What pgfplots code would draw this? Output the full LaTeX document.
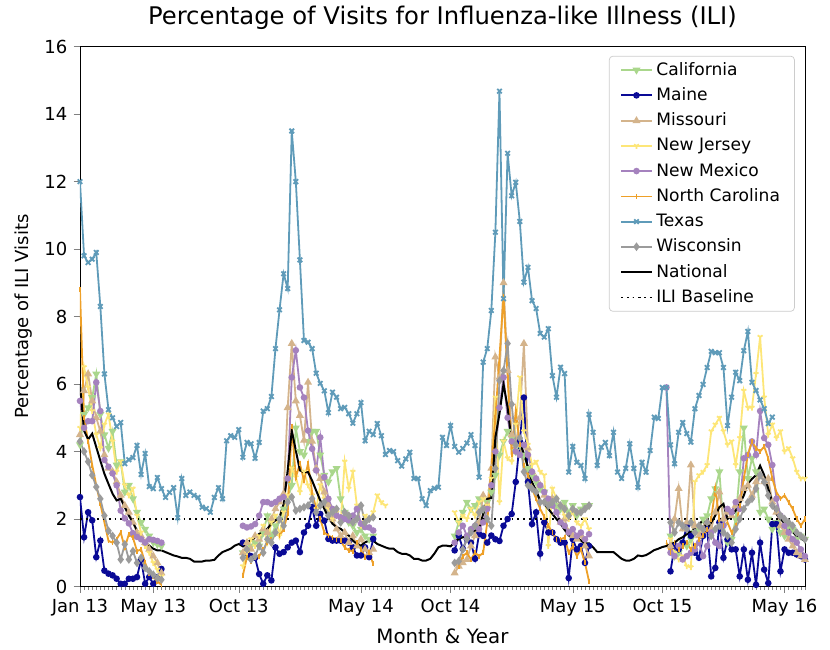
\documentclass[border=0pt]{standalone}
\usepackage{fontspec}
\setmainfont{DejaVu Sans}
\usepackage{pgfplots}
\pgfplotsset{compat=1.18}
\usetikzlibrary{plotmarks}

\definecolor{cCA}{RGB}{170,215,140}
\definecolor{cME}{RGB}{10,10,150}
\definecolor{cMO}{RGB}{212,180,140}
\definecolor{cNJ}{RGB}{253,230,120}
\definecolor{cNM}{RGB}{165,130,190}
\definecolor{cNC}{RGB}{238,160,40}
\definecolor{cTX}{RGB}{95,155,185}
\definecolor{cWI}{RGB}{155,155,155}

\begin{document}
\begin{tikzpicture}
\begin{axis}[
    scale only axis,
    width=401.5bp, height=299bp,
    at={(0,0)}, anchor=south west,
    xmin=0, xmax=178, ymin=0, ymax=16,
    xtick={0,18,39,69,91,121,143,173},
    xticklabels={Jan 13,May 13,Oct 13,May 14,Oct 14,May 15,Oct 15,May 16},
    minor xtick={0,...,178},
    ytick={0,2,...,16},
    tick align=outside, tick pos=left,
    major tick length=3.5pt, minor tick length=2pt,
    /pgf/number format/assume math mode=true,
    tick label style={font=\fontsize{10}{12}\selectfont},
    xlabel style={font=\fontsize{11}{13}\selectfont},
    ylabel style={font=\fontsize{10}{12}\selectfont},
    title style={font=\fontsize{13.5}{16}\selectfont},
    title={Percentage of Visits for Influenza-like Illness (ILI)},
    xlabel={Month \& Year},
    ylabel={Percentage of ILI Visits},
    unbounded coords=jump,
    every axis plot/.append style={line width=1pt},
    legend cell align=left,
    legend style={at={(0.986,0.983)}, anchor=north east,
        font=\fontsize{9.5}{11}\selectfont, draw=black!20, rounded corners=2pt,
        fill=white, fill opacity=0.8, text opacity=1, row sep=1.4bp,
        inner xsep=6bp, inner ysep=1.3bp},
  ]

  \addplot[cCA, mark=triangle*, mark size=1.6pt, mark options={rotate=180, solid}] coordinates {
    (0,4.2)(1,5.1)(2,5.3)(3,5.6)(4,6.3)(5,5.1)(6,4.5)(7,4.1)(8,4.6)(9,3.6)(10,3.7)(11,2.8)(12,3.0)(13,2.6)(14,2.2)(15,1.9)(16,1.7)(17,1.5)(18,1.3)(19,1.25)(20,1.2)
    (21,nan)
    (40,1.0)(41,0.9)(42,1.2)(43,1.3)(44,1.2)(45,1.6)(46,2.1)(47,1.5)(48,1.8)(49,2.0)(50,2.3)(51,2.6)(52,3.0)(53,4.7)(54,4.0)(55,3.9)(56,4.3)(57,4.6)(58,4.6)(59,3.9)(60,3.3)(61,3.1)(62,3.4)(63,3.5)(64,2.6)(65,2.2)(66,1.9)(67,1.8)(68,1.6)(69,1.7)(70,1.5)(71,1.4)(72,1.5)
    (73,nan)
    (92,1.5)(93,1.9)(94,2.2)(95,2.5)(96,2.3)(97,2.4)(98,2.6)(99,2.3)(100,2.5)(101,2.8)(102,3.3)(103,3.9)(104,4.3)(105,4.6)(106,4.4)(107,4.0)(108,4.2)(109,3.9)(110,3.5)(111,3.3)(112,3.1)(113,2.9)(114,2.8)(115,2.5)(116,2.6)(117,2.4)(118,2.3)(119,2.5)(120,2.2)(121,2.4)(122,2.1)(123,2.3)(124,2.4)(125,2.4)
    (126,nan)
    (145,1.5)(146,0.9)(147,1.0)(148,1.3)(149,1.2)(150,1.4)(151,1.6)(152,1.7)(153,2.0)(154,2.1)(155,2.6)(156,2.9)(157,3.4)(158,1.8)(159,1.3)(160,1.4)(161,2.0)(162,3.4)(163,4.7)(164,3.2)(165,3.8)(166,3.4)(167,2.2)(168,2.3)(169,2.0)(170,1.7)(171,1.9)(172,1.6)(173,1.5)(174,1.8)(175,1.7)(176,1.4)(177,1.5)(178,1.4)
  };
  \addlegendentry{California}

  \addplot[cME, mark=*, mark size=1.3pt, mark options={solid}] coordinates {
    (0,2.65)(1,1.46)(2,2.2)(3,1.96)(4,0.87)(5,1.36)(6,0.47)(7,0.38)(8,0.33)(9,0.23)(10,0.08)(11,0.08)(12,0.23)(13,0.23)(14,0.28)(15,0.8)(16,0.08)(17,0.28)(18,0.08)(19,0.28)(20,0.52)
    (21,nan)
    (40,1.3)(41,1.0)(42,0.9)(43,0.85)(44,0.37)(45,0.08)(46,0.33)(47,0.18)(48,1.16)(49,0.97)(50,1.02)(51,1.16)(52,1.3)(53,1.36)(54,1.02)(55,1.6)(56,1.8)(57,2.35)(58,1.8)(59,2.15)(60,1.95)(61,1.41)(62,1.36)(63,1.36)(64,1.36)(65,1.36)(66,1.3)(67,1.16)(68,0.92)(69,0.92)(70,1.16)(71,0.87)(72,1.41)
    (73,nan)
    (92,1.07)(93,1.51)(94,1.12)(95,1.4)(96,1.3)(97,0.82)(98,1.56)(99,1.5)(100,1.3)(101,1.51)(102,1.4)(103,1.35)(104,1.8)(105,2.0)(106,2.15)(107,3.1)(108,4.3)(109,5.6)(110,3.1)(111,1.85)(112,2.2)(113,0.97)(114,1.9)(115,1.6)(116,1.6)(117,1.4)(118,1.3)(119,1.3)(120,0.25)(121,1.4)(122,1.1)(123,1.2)(124,0.7)(125,1.2)
    (126,nan)
    (145,0.45)(146,1.2)(147,1.1)(148,1.3)(149,1.8)(150,1.5)(151,1.0)(152,0.85)(153,1.5)(154,1.7)(155,0.3)(156,0.55)(157,1.9)(158,0.85)(159,1.4)(160,1.1)(161,1.1)(162,0.3)(163,1.1)(164,0.2)(165,1.0)(166,0.05)(167,1.3)(168,0.5)(169,0.1)(170,1.85)(171,1.85)(172,0.45)(173,1.1)(174,1.0)(175,1.0)(176,0.95)(177,0.9)(178,0.8)
  };
  \addlegendentry{Maine}

  \addplot[cMO, mark=triangle*, mark size=1.6pt, mark options={solid}] coordinates {
    (0,4.5)(1,5.8)(2,6.3)(3,5.5)(4,5.0)(5,4.6)(6,3.9)(7,3.5)(8,3.4)(9,3.1)(10,2.7)(11,2.4)(12,2.2)(13,1.9)(14,1.6)(15,1.5)(16,1.3)(17,1.1)(18,0.9)(19,0.7)(20,0.4)
    (21,nan)
    (40,1.0)(41,1.3)(42,1.1)(43,1.5)(44,1.4)(45,1.7)(46,1.6)(47,2.0)(48,2.3)(49,2.5)(50,2.75)(51,5.3)(52,7.2)(53,5.5)(54,5.07)(55,4.33)(56,6.05)(57,4.3)(58,3.5)(59,3.2)(60,2.8)(61,2.4)(62,2.0)(63,1.7)(64,1.5)(65,1.6)(66,1.3)(67,1.5)(68,1.2)(69,1.4)(70,1.1)(71,1.0)(72,1.1)
    (73,nan)
    (92,0.4)(93,0.6)(94,0.7)(95,0.8)(96,1.2)(97,1.5)(98,1.9)(99,2.7)(100,2.4)(101,3.5)(102,6.8)(103,6.2)(104,9.0)(105,6.4)(106,4.5)(107,4.2)(108,5.0)(109,7.2)(110,4.1)(111,3.4)(112,3.2)(113,3.0)(114,2.7)(115,2.5)(116,2.6)(117,2.2)(118,1.9)(119,2.0)(120,1.6)(121,1.5)(122,1.4)(123,1.5)(124,1.2)(125,0.9)
    (126,nan)
    (145,1.2)(146,2.0)(147,2.9)(148,1.7)(149,1.9)(150,3.6)(151,1.8)(152,1.5)(153,1.7)(154,1.9)(155,1.7)(156,2.2)(157,2.8)(158,2.0)(159,2.2)(160,2.1)(161,2.4)(162,2.6)(163,2.9)(164,3.0)(165,2.7)(166,3.1)(167,3.3)(168,3.1)(169,3.2)(170,2.5)(171,2.2)(172,1.8)(173,1.6)(174,1.4)(175,1.2)(176,1.0)(177,0.9)(178,0.8)
  };
  \addlegendentry{Missouri}

  \addplot[cNJ, mark=Mercedes star flipped, mark size=1.6pt, mark options={solid}] coordinates {
    (0,4.7)(1,6.5)(2,5.9)(3,5.2)(4,4.5)(5,4.1)(6,4.8)(7,5.1)(8,4.3)(9,3.4)(10,3.7)(11,3.0)(12,2.7)(13,2.9)(14,2.1)(15,1.6)(16,1.2)(17,1.0)(18,0.7)(19,0.5)(20,0.3)
    (21,nan)
    (40,0.6)(41,1.0)(42,1.4)(43,1.2)(44,1.5)(45,1.8)(46,1.3)(47,1.9)(48,2.1)(49,1.5)(50,2.2)(51,2.7)(52,3.5)(53,3.24)(54,2.8)(55,3.4)(56,3.0)(57,2.7)(58,2.3)(59,3.0)(60,2.6)(61,2.3)(62,2.0)(63,2.2)(64,1.9)(65,3.7)(66,2.9)(67,3.4)(68,2.4)(69,1.8)(70,2.1)(71,2.0)(72,2.2)(73,2.7)(74,2.5)(75,2.4)
    (76,nan)
    (92,2.2)(93,1.9)(94,2.1)(95,2.0)(96,2.3)(97,2.1)(98,2.5)(99,2.6)(100,2.4)(101,3.2)(102,5.6)(103,2.5)(104,4.3)(105,3.8)(106,3.7)(107,4.8)(108,6.2)(109,4.6)(110,4.2)(111,3.6)(112,3.7)(113,3.4)(114,3.3)(115,1.2)(116,2.9)(117,2.6)(118,2.4)(119,2.1)(120,2.0)(121,2.2)(122,1.9)(123,1.8)(124,2.0)(125,1.7)
    (126,nan)
    (145,1.4)(146,1.0)(147,0.8)(148,0.9)(149,0.6)(150,0.57)(151,3.1)(152,3.3)(153,3.4)(154,3.6)(155,4.6)(156,4.8)(157,5.0)(158,4.6)(159,4.2)(160,4.3)(161,3.6)(162,4.4)(163,5.8)(164,5.3)(165,5.3)(166,6.3)(167,7.4)(168,5.6)(169,4.5)(170,4.8)(171,4.4)(172,4.6)(173,4.0)(174,4.1)(175,3.8)(176,3.4)(177,3.2)(178,3.2)
  };
  \addlegendentry{New Jersey}

  \addplot[cNM, mark=*, mark size=1.3pt, mark options={solid}] coordinates {
    (0,5.5)(1,4.7)(2,4.9)(3,4.9)(4,6.05)(5,5.2)(6,3.75)(7,3.55)(8,3.35)(9,3.0)(10,2.25)(11,2.02)(12,1.87)(13,1.58)(14,1.47)(15,1.4)(16,1.3)(17,1.4)(18,1.38)(19,1.35)(20,1.3)
    (21,nan)
    (40,1.8)(41,1.75)(42,1.78)(43,1.85)(44,2.1)(45,2.5)(46,2.5)(47,2.45)(48,2.5)(49,2.6)(50,2.65)(51,3.2)(52,6.2)(53,7.0)(54,5.9)(55,5.6)(56,4.62)(57,4.08)(58,3.44)(59,4.42)(60,3.24)(61,2.6)(62,2.3)(63,2.1)(64,2.05)(65,2.0)(66,1.96)(67,2.1)(68,2.3)(69,1.86)(70,1.76)(71,1.75)(72,1.66)
    (73,nan)
    (92,1.3)(93,1.6)(94,1.8)(95,1.5)(96,1.7)(97,1.8)(98,1.7)(99,1.9)(100,2.3)(101,3.0)(102,4.0)(103,5.3)(104,6.2)(105,5.0)(106,4.3)(107,4.0)(108,3.9)(109,4.2)(110,3.9)(111,3.4)(112,3.2)(113,3.0)(114,2.8)(115,2.6)(116,2.4)(117,2.2)(118,1.9)(119,1.8)(120,1.6)(121,1.7)(122,1.5)(123,1.6)(124,1.4)(125,1.55)
    (126,nan)
    (144,5.9)(145,1.0)(146,0.9)(147,1.2)(148,0.8)(149,0.9)(150,1.0)(151,1.1)(152,1.3)(153,0.9)(154,1.2)(155,1.6)(156,1.3)(157,1.2)(158,1.8)(159,2.3)(160,2.2)(161,2.5)(162,2.3)(163,3.8)(164,3.9)(165,4.3)(166,3.9)(167,5.2)(168,4.4)(169,4.2)(170,3.6)(171,2.6)(172,2.1)(173,1.8)(174,1.6)(175,1.4)(176,1.3)(177,1.1)(178,0.9)
  };
  \addlegendentry{New Mexico}

  \addplot[cNC, mark=|, mark size=1.4pt, mark options={solid}] coordinates {
    (0,8.8)(1,5.0)(2,4.3)(3,3.6)(4,3.0)(5,2.45)(6,1.9)(7,1.35)(8,1.3)(9,1.4)(10,1.6)(11,1.15)(12,1.55)(13,1.45)(14,1.05)(15,1.1)(16,0.7)(17,0.4)(18,0.3)(19,0.15)(20,0.05)
    (21,nan)
    (40,0.33)(41,0.87)(42,0.75)(43,0.85)(44,0.9)(45,1.1)(46,1.3)(47,1.4)(48,1.56)(49,1.5)(50,1.7)(51,2.15)(52,4.75)(53,3.24)(54,3.64)(55,3.14)(56,3.64)(57,2.8)(58,2.3)(59,2.0)(60,1.6)(61,1.51)(62,1.45)(63,1.4)(64,1.35)(65,1.16)(66,1.07)(67,1.05)(68,1.3)(69,1.1)(70,0.87)(71,1.0)(72,0.67)
    (73,nan)
    (92,0.7)(93,0.6)(94,0.9)(95,1.0)(96,0.8)(97,1.0)(98,0.9)(99,1.0)(100,1.9)(101,3.5)(102,5.0)(103,6.8)(104,8.6)(105,6.2)(106,3.9)(107,5.2)(108,4.2)(109,3.6)(110,3.3)(111,2.9)(112,2.6)(113,2.3)(114,2.06)(115,1.8)(116,1.6)(117,1.4)(118,1.4)(119,1.45)(120,1.0)(121,1.2)(122,0.9)(123,1.1)(124,0.7)(125,0.15)
    (126,nan)
    (144,1.3)(145,1.0)(146,1.3)(147,1.1)(148,1.2)(149,1.3)(150,1.1)(151,1.2)(152,1.4)(153,1.5)(154,1.7)(155,2.0)(156,2.9)(157,2.0)(158,1.8)(159,1.9)(160,1.6)(161,1.8)(162,2.4)(163,3.2)(164,3.9)(165,4.3)(166,4.1)(167,4.0)(168,4.15)(169,3.8)(170,3.2)(171,2.8)(172,2.6)(173,2.7)(174,2.5)(175,2.3)(176,2.0)(177,1.8)(178,2.0)
  };
  \addlegendentry{North Carolina}

  \addplot[cTX, mark=x, mark size=1.8pt, mark options={solid}] coordinates {
    (0,12.0)(1,9.8)(2,9.6)(3,9.7)(4,9.9)(5,8.3)(6,6.3)(7,5.24)(8,5.0)(9,4.74)(10,4.86)(11,3.64)(12,3.76)(13,3.82)(14,4.18)(15,3.32)(16,3.94)(17,2.96)(18,2.9)(19,3.23)(20,2.9)
    (21,2.64)(22,2.79)(23,2.93)(24,2.04)(25,3.2)(26,2.7)(27,2.8)(28,2.7)(29,2.64)(30,2.35)(31,2.31)(32,2.2)(33,2.64)(34,2.93)(35,2.6)(36,4.32)(37,4.47)(38,4.42)(39,4.65)(40,3.83)
    (41,4.27)(42,4.23)(43,3.8)(44,4.27)(45,5.2)(46,5.27)(47,5.63)(48,7.05)(49,8.2)(50,9.27)(51,8.83)(52,13.5)(53,12.0)(54,9.68)(55,7.29)(56,7.24)(57,7.05)(58,6.32)(59,6.02)(60,5.8)
    (61,5.15)(62,5.76)(63,5.61)(64,5.27)(65,5.31)(66,5.12)(67,4.84)(68,5.12)(69,5.45)(70,4.32)(71,4.6)(72,4.5)(73,4.83)(74,4.47)(75,3.91)(76,4.03)(77,4.0)(78,3.73)(79,3.57)(80,3.78)
    (81,3.98)(82,3.2)(83,3.2)(84,2.6)(85,2.4)(86,2.84)(87,2.91)(88,2.94)(89,4.42)(90,4.18)(91,4.77)(92,4.15)(93,3.98)(94,4.09)(95,4.25)(96,4.5)(97,4.18)(98,3.24)(99,6.65)(100,7.05)
    (101,8.18)(102,10.5)(103,14.68)(104,8.53)(105,12.84)(106,11.58)(107,11.98)(108,10.82)(109,9.02)(110,9.46)(111,8.47)(112,8.24)(113,7.5)(114,7.39)(115,7.64)(116,6.25)(117,5.61)(118,6.5)(119,6.31)(120,3.39)
    (121,4.15)(122,3.68)(123,3.59)(124,3.2)(125,5.1)(126,4.57)(127,3.59)(128,4.13)(129,4.27)(130,3.88)(131,4.57)(132,3.39)(133,3.2)(134,3.5)(135,4.23)(136,3.5)(137,2.94)(138,3.68)(139,3.39)(140,4.03)
    (141,5.02)(142,4.98)(143,5.9)(144,5.9)(145,4.2)(146,3.64)(147,4.57)(148,4.86)(149,4.53)(150,4.28)(151,5.27)(152,5.66)(153,5.99)(154,6.49)(155,6.97)(156,6.93)(157,6.93)(158,6.49)(159,4.77)(160,5.61)
    (161,6.35)(162,6.1)(163,6.99)(164,7.56)(165,6.05)(166,5.81)(167,5.53)(168,5.27)(169,4.83)(170,5.02)
  };
  \addlegendentry{Texas}

  \addplot[cWI, mark=diamond*, mark size=1.6pt, mark options={solid}] coordinates {
    (0,4.3)(1,4.0)(2,3.7)(3,3.3)(4,2.95)(5,2.6)(6,2.1)(7,1.65)(8,1.5)(9,1.3)(10,0.8)(11,1.25)(12,0.8)(13,1.05)(14,0.7)(15,0.85)(16,0.55)(17,0.45)(18,0.35)(19,0.25)(20,0.2)
    (21,nan)
    (40,0.85)(41,1.1)(42,0.8)(43,0.9)(44,1.2)(45,1.0)(46,1.4)(47,1.3)(48,1.6)(49,2.0)(50,1.8)(51,2.5)(52,2.65)(53,2.25)(54,2.3)(55,2.35)(56,2.4)(57,2.6)(58,2.2)(59,2.4)(60,2.5)(61,2.1)(62,2.2)(63,2.3)(64,1.9)(65,2.2)(66,2.1)(67,1.9)(68,2.0)(69,2.4)(70,1.9)(71,2.0)(72,2.05)
    (73,nan)
    (92,0.7)(93,0.75)(94,1.1)(95,1.4)(96,1.6)(97,1.8)(98,2.2)(99,2.3)(100,2.0)(101,1.8)(102,3.5)(103,6.1)(104,6.4)(105,7.2)(106,5.4)(107,4.2)(108,4.4)(109,3.4)(110,3.0)(111,2.9)(112,2.8)(113,2.5)(114,2.5)(115,2.4)(116,2.5)(117,2.6)(118,2.4)(119,2.3)(120,2.1)(121,2.3)(122,2.2)(123,2.2)(124,2.3)(125,2.4)
    (126,nan)
    (145,1.9)(146,1.6)(147,1.9)(148,1.8)(149,1.7)(150,1.9)(151,1.6)(152,1.8)(153,1.7)(154,1.9)(155,1.5)(156,1.7)(157,1.8)(158,1.6)(159,1.5)(160,1.3)(161,1.7)(162,2.0)(163,2.3)(164,2.5)(165,2.6)(166,2.9)(167,3.3)(168,3.1)(169,2.7)(170,2.4)(171,2.3)(172,2.1)(173,2.0)(174,1.9)(175,1.8)(176,1.6)(177,1.5)(178,1.4)
  };
  \addlegendentry{Wisconsin}

  \addplot[black, mark=none, line width=1.1pt] coordinates {
    (0,6.0)(1,4.62)(2,4.36)(3,4.53)(4,4.13)(5,3.73)(6,3.34)(7,3.04)(8,2.75)(9,2.55)(10,2.6)(11,2.35)(12,2.1)(13,1.9)(14,1.66)(15,1.46)(16,1.31)(17,1.21)(18,1.12)(19,1.07)(20,1.07)
    (21,1.02)(22,0.97)(23,0.92)(24,0.89)(25,0.85)(26,0.85)(27,0.82)(28,0.74)(29,0.74)(30,0.74)(31,0.77)(32,0.77)(33,0.79)(34,0.92)(35,1.02)(36,1.07)(37,1.12)(38,1.21)(39,1.26)(40,1.19)
    (41,1.31)(42,1.38)(43,1.46)(44,1.56)(45,1.61)(46,1.71)(47,1.86)(48,1.96)(49,2.05)(50,2.45)(51,3.44)(52,4.62)(53,4.03)(54,3.44)(55,3.39)(56,3.39)(57,3.14)(58,2.84)(59,2.55)(60,2.3)
    (61,2.05)(62,1.86)(63,1.76)(64,1.71)(65,1.61)(66,1.51)(67,1.36)(68,1.26)(69,1.21)(70,1.31)(71,1.36)(72,1.36)(73,1.26)(74,1.21)(75,1.16)(76,1.12)(77,1.12)(78,1.02)(79,0.97)(80,0.97)
    (81,0.92)(82,0.82)(83,0.82)(84,0.77)(85,0.77)(86,0.82)(87,0.97)(88,1.16)(89,1.21)(90,1.21)(91,1.19)(92,1.31)(93,1.41)(94,1.46)(95,1.46)(96,1.56)(97,1.66)(98,1.71)(99,2.15)(100,2.6)
    (101,2.62)(102,4.42)(103,5.12)(104,6.0)(105,5.31)(106,4.28)(107,4.28)(108,4.28)(109,3.93)(110,3.54)(111,3.09)(112,2.84)(113,2.55)(114,2.45)(115,2.3)(116,2.15)(117,2.0)(118,1.86)(119,1.68)(120,1.51)
    (121,1.46)(122,1.46)(123,1.36)(124,1.28)(125,1.28)(126,1.16)(127,1.02)(128,1.02)(129,1.02)(130,1.02)(131,1.02)(132,0.92)(133,0.82)(134,0.77)(135,0.77)(136,0.82)(137,0.92)(138,0.9)(139,0.93)(140,1.0)
    (141,1.08)(142,1.12)(143,1.17)(144,1.2)(145,1.25)(146,1.3)(147,1.4)(148,1.46)(149,1.55)(150,1.62)(151,1.7)(152,1.85)(153,1.96)(154,1.71)(155,1.9)(156,2.1)(157,2.35)(158,2.45)(159,2.0)(160,2.1)
    (161,2.25)(162,2.45)(163,2.7)(164,3.05)(165,3.19)(166,3.3)(167,3.58)(168,3.3)(169,2.9)(170,2.5)(171,2.15)(172,2.0)(173,1.88)(174,1.75)(175,1.62)(176,1.5)(177,1.42)(178,1.35)
  };
  \addlegendentry{National}

  \addplot[black, mark=none, line width=1pt, dash pattern=on 1pt off 2.2pt] coordinates {(0,2) (178,2)};
  \addlegendentry{ILI Baseline}
\end{axis}
\path (-44.3bp,-32.7bp) rectangle (415.4bp,324.5bp);
\end{tikzpicture}
\end{document}
